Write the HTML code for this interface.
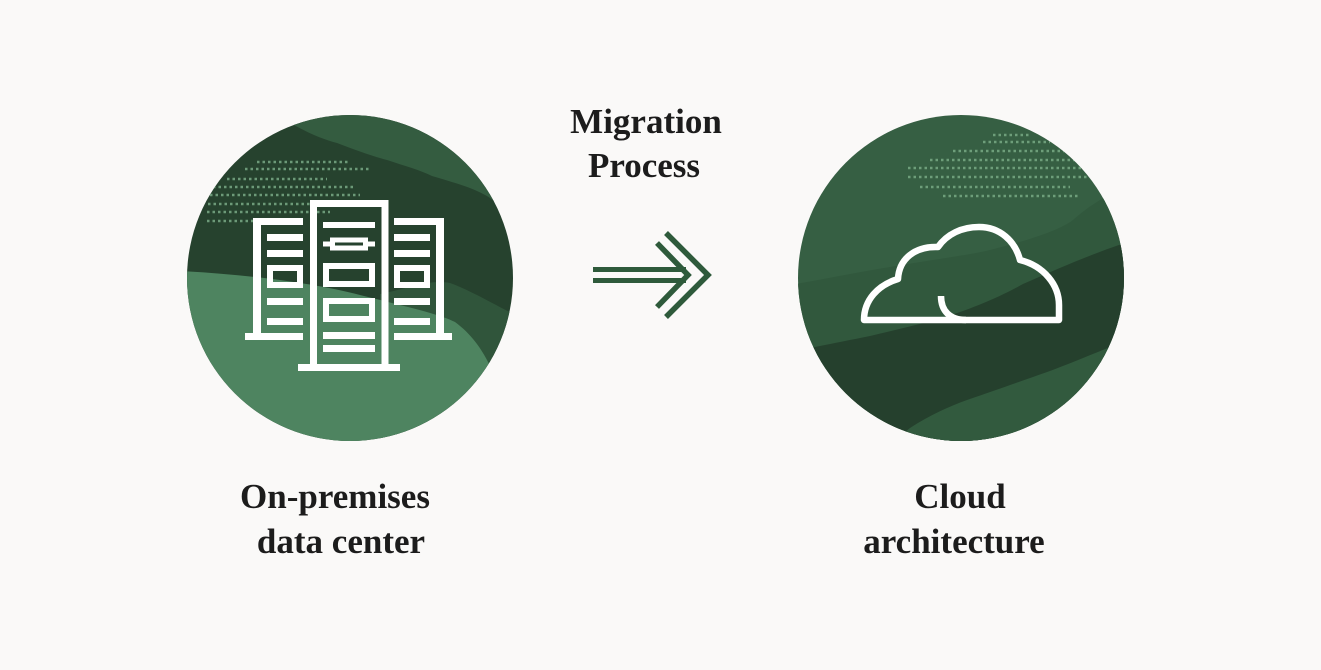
<!DOCTYPE html>
<html>
<head>
<meta charset="utf-8">
<style>
  html, body { margin: 0; padding: 0; background: #faf9f8; }
  body { width: 1321px; height: 670px; overflow: hidden; }
  svg { display: block; }
  text { font-family: "Liberation Serif", "Times New Roman", serif; font-weight: bold; font-size: 35px; fill: #1c1c1c; }
</style>
</head>
<body>
<svg width="1321" height="670" viewBox="0 0 1321 670" xmlns="http://www.w3.org/2000/svg">
  <defs>
    <clipPath id="cl"><circle cx="350" cy="278" r="163"/></clipPath>
    <clipPath id="cr"><circle cx="961" cy="278" r="163"/></clipPath>
  </defs>
  <rect width="1321" height="670" fill="#faf9f8"/>

  <!-- LEFT CIRCLE -->
  <g clip-path="url(#cl)">
    <rect x="180" y="100" width="350" height="360" fill="#26422e"/>
    <path d="M280 100 L292 124 C310 134,325 140,337 143 C355 150,372 156,387 160 C405 166,420 170,432 176 C455 183,475 188,490 198 C500 206,510 215,525 225 L525 100 Z" fill="#345c40"/>
    <path d="M380 294 C410 288,430 279,450 283 C470 290,495 305,525 320 L525 460 L380 460 Z" fill="#30553b"/>
    <path d="M180 271 C240 274,310 282,360 295 C400 305,440 314,455 322 C470 333,482 348,492 370 L525 385 L525 460 L180 460 Z" fill="#4e8460"/>
    <g stroke="#92c8a0" stroke-opacity="0.65" stroke-width="2.5" stroke-dasharray="2.5 3" fill="none">
      <line x1="257" y1="162" x2="350" y2="162"/>
      <line x1="245" y1="169" x2="370" y2="169"/>
      <line x1="227" y1="179" x2="327" y2="179"/>
      <line x1="213" y1="187" x2="353" y2="187"/>
      <line x1="210" y1="195" x2="360" y2="195"/>
      <line x1="208" y1="204" x2="333" y2="204"/>
      <line x1="207" y1="212" x2="330" y2="212"/>
      <line x1="207" y1="221" x2="280" y2="221"/>
    </g>
  </g>

  <!-- Server icon -->
  <g fill="#ffffff">
    <g>
      <rect x="253" y="218" width="8" height="118"/>
      <rect x="253" y="218" width="50" height="7"/>
      <rect x="245" y="333" width="58" height="7"/>
      <rect x="267" y="234" width="36" height="7"/>
      <rect x="267" y="250" width="36" height="7"/>
      <rect x="270" y="268" width="30" height="17" fill="none" stroke="#fff" stroke-width="6"/>
      <rect x="267" y="298" width="36" height="7"/>
      <rect x="267" y="318" width="36" height="7"/>
    </g>
    <g transform="translate(697,0) scale(-1,1)">
      <rect x="253" y="218" width="8" height="118"/>
      <rect x="253" y="218" width="50" height="7"/>
      <rect x="245" y="333" width="58" height="7"/>
      <rect x="267" y="234" width="36" height="7"/>
      <rect x="267" y="250" width="36" height="7"/>
      <rect x="270" y="268" width="30" height="17" fill="none" stroke="#fff" stroke-width="6"/>
      <rect x="267" y="298" width="36" height="7"/>
      <rect x="267" y="318" width="36" height="7"/>
    </g>
    <rect x="313.5" y="203.5" width="71.5" height="164" fill="none" stroke="#fff" stroke-width="7"/>
    <rect x="298" y="364" width="102" height="7"/>
    <rect x="323" y="222" width="52" height="6"/>
    <rect x="332.5" y="240" width="33" height="8" fill="none" stroke="#fff" stroke-width="5"/>
    <rect x="323" y="241.5" width="9" height="5"/>
    <rect x="366" y="241.5" width="9" height="5"/>
    <rect x="326" y="266" width="46" height="18" fill="none" stroke="#fff" stroke-width="6"/>
    <rect x="326" y="301" width="46" height="18" fill="none" stroke="#fff" stroke-width="6"/>
    <rect x="323" y="332" width="52" height="7"/>
    <rect x="323" y="345" width="52" height="7"/>
  </g>

  <!-- RIGHT CIRCLE -->
  <g clip-path="url(#cr)">
    <rect x="790" y="100" width="350" height="360" fill="#365f43"/>
    <path d="M790 285 C830 278,870 270,890 267 C930 260,970 255,990 250 C1030 240,1060 230,1073 220 C1085 210,1095 200,1140 180 L1140 460 L790 460 Z" fill="#31583d"/>
    <path d="M790 352 C810 348,840 342,870 336 C900 329,920 324,935 320 C970 310,1000 297,1023 284 C1060 268,1090 254,1140 238 L1140 460 L790 460 Z" fill="#25402d"/>
    <path d="M880 450 C895 440,905 432,910 428 C930 415,950 406,967 400 C990 392,1010 385,1033 377 C1060 368,1090 355,1140 335 L1140 460 Z" fill="#325a3e"/>
    <g stroke="#92c8a0" stroke-opacity="0.6" stroke-width="2.5" stroke-dasharray="2.5 3" fill="none">
      <line x1="993" y1="135" x2="1030" y2="135"/>
      <line x1="983" y1="142" x2="1050" y2="142"/>
      <line x1="953" y1="151" x2="1073" y2="151"/>
      <line x1="930" y1="160" x2="1080" y2="160"/>
      <line x1="908" y1="168" x2="1083" y2="168"/>
      <line x1="908" y1="177" x2="1087" y2="177"/>
      <line x1="920" y1="187" x2="1070" y2="187"/>
      <line x1="943" y1="196" x2="1080" y2="196"/>
    </g>
  </g>

  <!-- Cloud icon -->
  <g fill="none" stroke="#ffffff" stroke-width="6.5" stroke-linejoin="round">
    <path d="M864 320 C864 300,878 285,898 279 C899 259,915 246,938 247 C947 234,962 227,979 227 C1000 227,1015 241,1020 260 C1044 266,1059 285,1059 305 L1059 320 Z"/>
    <path d="M941 296 C941 311,950 320,966 320"/>
  </g>

  <!-- Arrow -->
  <g fill="#2e5a3b">
    <rect x="593" y="267" width="93" height="5"/>
    <rect x="593" y="278" width="93" height="5"/>
  </g>
  <g fill="none" stroke="#2e5a3b" stroke-width="5.5" stroke-linejoin="miter" stroke-linecap="butt">
    <polyline points="666,233 708,275 666,317"/>
    <polyline points="657,243 688,275 657,307"/>
  </g>

  <!-- Labels -->
  <text x="646" y="133" text-anchor="middle">Migration</text>
  <text x="644" y="177" text-anchor="middle">Process</text>
  <text x="335" y="508" text-anchor="middle">On-premises</text>
  <text x="341" y="553" text-anchor="middle">data center</text>
  <text x="960" y="508" text-anchor="middle">Cloud</text>
  <text x="954" y="553" text-anchor="middle">architecture</text>
</svg>
</body>
</html>
